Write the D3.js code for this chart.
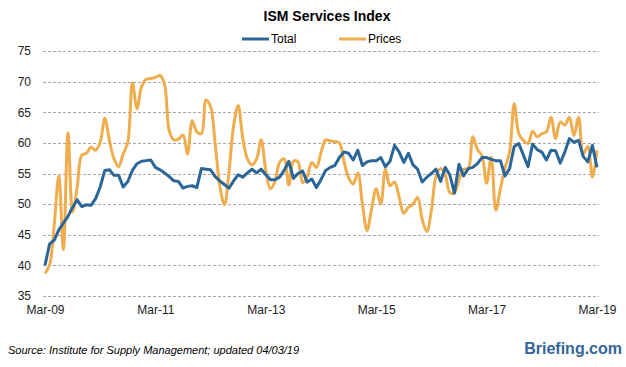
<!DOCTYPE html>
<html>
<head>
<meta charset="utf-8">
<script src="https://cdn.jsdelivr.net/npm/d3@7"></script>
<style>
  body { margin: 0; background: #fff; }
  svg { display: block; font-family: "Liberation Sans", Arial, sans-serif; }
  .grid line { stroke: #a6a6a6; stroke-dasharray: 3,2; shape-rendering: crispEdges; }
  .axis text { font-size: 12px; fill: #222; }
</style>
</head>
<body>
<svg class="chart" width="626" height="367"></svg>
<script>
(function () {
  // monthly, Mar-09 .. Mar-19
  var xTicks = ["Mar-09", "Mar-11", "Mar-13", "Mar-15", "Mar-17", "Mar-19"];
  var yTicks = [35, 40, 45, 50, 55, 60, 65, 70, 75];

  var total = [
    40.0, 43.5, 44.1, 45.8, 46.9, 48.0, 49.5, 50.7, 49.6, 49.9, 49.8, 50.9,
    52.8, 55.5, 55.6, 54.7, 54.7, 52.8, 53.7, 55.5, 56.6, 57.0, 57.1, 57.2,
    56.0, 55.6, 55.1, 54.5, 53.8, 53.7, 52.6, 52.9, 53.0, 52.7, 55.8, 55.7,
    55.6, 54.5, 53.8, 53.2, 52.6, 53.8, 54.8, 54.4, 55.1, 55.7, 55.1, 55.7,
    54.8, 54.0, 54.0, 54.4, 55.5, 57.0, 54.2, 55.0, 55.4, 53.6, 54.1, 52.7,
    54.0, 55.5, 56.0, 56.3, 57.6, 58.5, 58.3, 57.2, 58.8, 56.3, 56.9, 57.1,
    57.1, 57.6, 56.1, 57.0, 59.6, 58.5, 56.8, 58.3, 56.4, 55.7, 53.6, 54.4,
    55.0, 55.7, 53.7, 56.0, 54.8, 51.8, 56.5, 54.6, 55.8, 56.0, 56.6, 57.6,
    57.6, 57.3, 57.1, 57.1, 54.6, 55.8, 59.4, 59.9, 58.0, 56.1, 59.8, 58.9,
    58.5, 57.2, 58.8, 58.7, 56.7, 58.5, 60.7, 60.1, 60.4, 57.8, 56.9, 59.6,
    56.0
  ];

  var prices = [
    38.7, 40.1, 46.5, 54.6, 42.6, 61.6, 48.7, 52.8, 58.0, 58.3, 59.3, 58.8,
    60.1, 64.0, 60.4, 57.4, 56.1, 58.2, 60.1, 69.8, 65.6, 69.2, 70.4, 70.5,
    70.7, 71.0, 69.5, 62.0, 60.5, 60.6, 61.3, 58.2, 63.6, 61.8, 61.5, 67.0,
    65.9, 59.8, 53.0, 49.9, 55.3, 62.8, 66.1, 60.7, 57.4, 56.4, 57.4, 60.5,
    55.5, 52.5, 53.7, 56.8, 57.4, 53.1, 57.0, 56.9, 53.5, 54.5, 56.8, 56.0,
    58.4, 60.5, 60.3, 60.2, 60.0, 57.0, 54.3, 53.3, 55.1, 50.0, 45.7, 49.2,
    52.5, 50.0, 55.7, 53.0, 53.6, 51.1, 48.5, 49.5, 50.0, 51.1, 47.5, 45.5,
    49.0, 54.5, 55.8, 54.8, 51.9, 51.8, 54.0, 55.7, 55.8, 61.0, 58.9, 57.9,
    53.4, 57.7, 49.0, 52.5, 55.9, 58.5, 66.4, 61.5, 60.4, 59.9, 61.9, 61.0,
    61.5, 61.8, 64.2, 60.7, 63.4, 62.9, 64.2, 61.2, 64.2, 58.2, 59.4, 54.4,
    58.8
  ];

  var svg = d3.select(".chart");
  var margin = {top: 51, right: 27, bottom: 71, left: 43};
  var width = 626 - margin.left - margin.right;
  var height = 367 - margin.top - margin.bottom;

  var x = d3.scaleLinear()
    .domain([0, total.length - 1])
    .range([margin.left + 2, margin.left + width - 2]);

  var y = d3.scaleLinear()
    .domain([35, 75])
    .range([margin.top + height, margin.top]);

  // gridlines
  svg.append("g")
    .attr("class", "grid")
    .selectAll("line")
    .data(yTicks)
    .enter().append("line")
      .attr("x1", margin.left)
      .attr("x2", margin.left + width)
      .attr("y1", function(d) { return Math.round(y(d)) + 0.5; })
      .attr("y2", function(d) { return Math.round(y(d)) + 0.5; });

  var yaxis = d3.axisLeft(y).tickValues(yTicks).tickSize(0).tickPadding(0);
  svg.append("g")
    .attr("class", "axis")
    .attr("transform", "translate(31,0)")
    .call(yaxis)
    .call(function(g) { g.select(".domain").remove(); });

  var tickIdx = xTicks.map(function(d, i) { return i * 24; });
  var xaxis = d3.axisBottom(x)
    .tickValues(tickIdx)
    .tickSize(0)
    .tickPadding(0)
    .tickFormat(function(d, i) { return xTicks[i]; });
  svg.append("g")
    .attr("class", "axis")
    .attr("transform", "translate(0," + (margin.top + height + 9) + ")")
    .call(xaxis)
    .call(function(g) { g.select(".domain").remove(); });

  var lineTotal = d3.line()
    .x(function(d, i) { return x(i); })
    .y(function(d) { return y(d); });

  var linePrices = d3.line()
    .x(function(d, i) { return x(i); })
    .y(function(d) { return y(d); })
    .curve(d3.curveCatmullRom.alpha(0.5));

  svg.append("path")
    .datum(prices)
    .attr("fill", "none")
    .attr("stroke", "#f0ad4e")
    .attr("stroke-width", 3)
    .attr("stroke-linejoin", "round")
    .attr("d", linePrices);

  svg.append("path")
    .datum(total)
    .attr("fill", "none")
    .attr("stroke", "#2b6699")
    .attr("stroke-width", 3)
    .attr("stroke-linejoin", "round")
    .attr("d", lineTotal);

  // title
  svg.append("text")
    .attr("x", 327)
    .attr("y", 21)
    .attr("text-anchor", "middle")
    .style("font-size", "14px")
    .style("font-weight", "bold")
    .text("ISM Services Index");

  // legend
  var legend = [
    {name: "Total", colour: "#2b6699", x: 242},
    {name: "Prices", colour: "#f0ad4e", x: 339}
  ];
  var lg = svg.selectAll(".legend")
    .data(legend)
    .enter().append("g")
      .attr("class", "legend");
  lg.append("line")
    .attr("x1", function(d) { return d.x; })
    .attr("x2", function(d) { return d.x + 27; })
    .attr("y1", 39)
    .attr("y2", 39)
    .attr("stroke", function(d) { return d.colour; })
    .attr("stroke-width", 3);
  lg.append("text")
    .attr("x", function(d) { return d.x + 29; })
    .attr("y", 43)
    .style("font-size", "12px")
    .text(function(d) { return d.name; });

  // footer
  svg.append("text")
    .attr("x", 8)
    .attr("y", 354)
    .style("font-size", "11px")
    .style("font-style", "italic")
    .text("Source: Institute for Supply Management; updated 04/03/19");

  svg.append("text")
    .attr("x", 622)
    .attr("y", 354)
    .attr("text-anchor", "end")
    .style("font-size", "16px")
    .style("font-weight", "bold")
    .style("fill", "#336699")
    .text("Briefing.com");
})();
</script>
</body>
</html>
